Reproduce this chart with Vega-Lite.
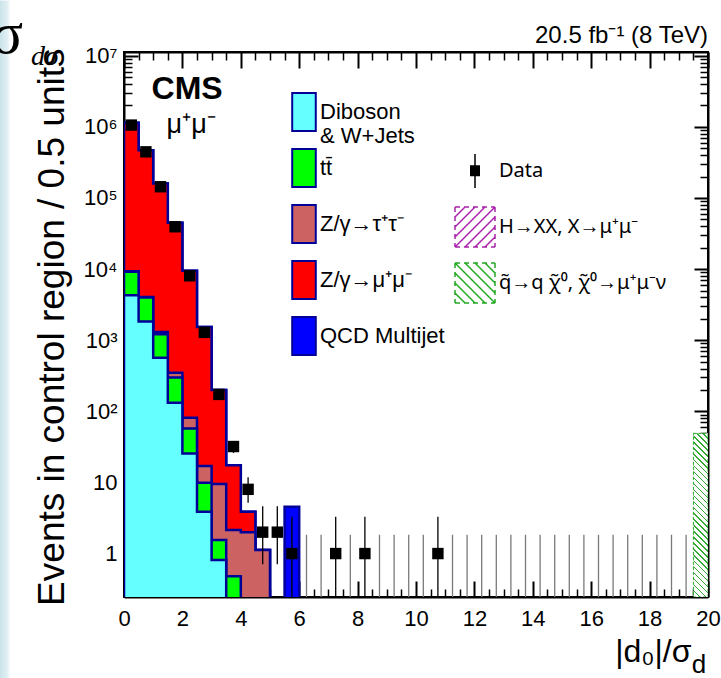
{
  "$schema": "https://vega.github.io/schema/vega-lite/v6.json",
  "width": 584,
  "height": 545,
  "autosize": {"type": "none"},
  "padding": {"left": 124, "top": 52, "right": 13, "bottom": 81},
  "background": "white",
  "config": {
    "font": "Liberation Sans",
    "view": {"stroke": "black", "strokeWidth": 2},
    "axis": {"domain": false, "grid": false, "zindex": 1, "tickColor": "black", "tickWidth": 1.5, "labelFlush": false, "labelOverlap": false, "labelColor": "black", "labelFont": "Liberation Sans", "titleFont": "Liberation Sans", "titleFontWeight": "normal", "titleColor": "black", "domainColor": "black"},
    "legend": {"labelFont": "Liberation Sans", "labelColor": "black"}
  },
  "datasets": {
    "stack": [
      {"k": "qcd", "lo": 0, "top": 1140000}, {"k": "qcd", "lo": 0.5, "top": 471000}, {"k": "qcd", "lo": 1, "top": 160000}, {"k": "qcd", "lo": 1.5, "top": 44800}, {"k": "qcd", "lo": 2, "top": 9460}, {"k": "qcd", "lo": 2.5, "top": 1530}, {"k": "qcd", "lo": 3, "top": 199}, {"k": "qcd", "lo": 3.5, "top": 17.5}, {"k": "qcd", "lo": 4, "top": 3.87}, {"k": "qcd", "lo": 4.5, "top": 1.12}, {"k": "qcd", "lo": 5, "top": 0.1}, {"k": "qcd", "lo": 5.5, "top": 4.55}, {"k": "qcd", "lo": 6, "top": 0.1},
      {"k": "zmm", "lo": 0, "top": 1140000}, {"k": "zmm", "lo": 0.5, "top": 471000}, {"k": "zmm", "lo": 1, "top": 160000}, {"k": "zmm", "lo": 1.5, "top": 44800}, {"k": "zmm", "lo": 2, "top": 9460}, {"k": "zmm", "lo": 2.5, "top": 1530}, {"k": "zmm", "lo": 3, "top": 199}, {"k": "zmm", "lo": 3.5, "top": 17.5}, {"k": "zmm", "lo": 4, "top": 3.87}, {"k": "zmm", "lo": 4.5, "top": 1.12}, {"k": "zmm", "lo": 5, "top": 0.1},
      {"k": "ztt", "lo": 0, "top": 9300}, {"k": "ztt", "lo": 0.5, "top": 4050}, {"k": "ztt", "lo": 1, "top": 1310}, {"k": "ztt", "lo": 1.5, "top": 348}, {"k": "ztt", "lo": 2, "top": 81}, {"k": "ztt", "lo": 2.5, "top": 17}, {"k": "ztt", "lo": 3, "top": 9.5}, {"k": "ztt", "lo": 3.5, "top": 2.14}, {"k": "ztt", "lo": 4, "top": 1.99}, {"k": "ztt", "lo": 4.5, "top": 1.12}, {"k": "ztt", "lo": 5, "top": 0.1},
      {"k": "tt", "lo": 0, "top": 9170}, {"k": "tt", "lo": 0.5, "top": 4000}, {"k": "tt", "lo": 1, "top": 1210}, {"k": "tt", "lo": 1.5, "top": 300}, {"k": "tt", "lo": 2, "top": 57.5}, {"k": "tt", "lo": 2.5, "top": 9.9}, {"k": "tt", "lo": 3, "top": 1.55}, {"k": "tt", "lo": 3.5, "top": 0.48}, {"k": "tt", "lo": 4, "top": 0.1},
      {"k": "db", "lo": 0, "top": 4300}, {"k": "db", "lo": 0.5, "top": 1840}, {"k": "db", "lo": 1, "top": 566}, {"k": "db", "lo": 1.5, "top": 132}, {"k": "db", "lo": 2, "top": 25.6}, {"k": "db", "lo": 2.5, "top": 3.87}, {"k": "db", "lo": 3, "top": 0.81}, {"k": "db", "lo": 3.5, "top": 0.1}
    ],
    "obs": [
      {"x": 0.25, "n": 1060000, "lo": 1058970, "hi": 1061030},
      {"x": 0.75, "n": 446000, "lo": 445332, "hi": 446668},
      {"x": 1.25, "n": 144000, "lo": 143620, "hi": 144380},
      {"x": 1.75, "n": 39400, "lo": 39202, "hi": 39598},
      {"x": 2.25, "n": 8050, "lo": 7960, "hi": 8140},
      {"x": 2.75, "n": 1290, "lo": 1254, "hi": 1326},
      {"x": 3.25, "n": 173, "lo": 159.8, "hi": 186.2},
      {"x": 3.75, "n": 32, "lo": 26, "hi": 38},
      {"x": 4.25, "n": 8, "lo": 5.2, "hi": 11.8},
      {"x": 4.75, "n": 2, "lo": 0.71, "hi": 4.64},
      {"x": 5.25, "n": 2, "lo": 0.71, "hi": 4.64},
      {"x": 5.75, "n": 1, "lo": 0.17, "hi": 3.3},
      {"x": 6.25, "n": 0, "lo": 0.1, "hi": 1.84},
      {"x": 6.75, "n": 0, "lo": 0.1, "hi": 1.84},
      {"x": 7.25, "n": 1, "lo": 0.17, "hi": 3.3},
      {"x": 7.75, "n": 0, "lo": 0.1, "hi": 1.84},
      {"x": 8.25, "n": 1, "lo": 0.17, "hi": 3.3},
      {"x": 8.75, "n": 0, "lo": 0.1, "hi": 1.84},
      {"x": 9.25, "n": 0, "lo": 0.1, "hi": 1.84},
      {"x": 9.75, "n": 0, "lo": 0.1, "hi": 1.84},
      {"x": 10.25, "n": 0, "lo": 0.1, "hi": 1.84},
      {"x": 10.75, "n": 1, "lo": 0.17, "hi": 3.3},
      {"x": 11.25, "n": 0, "lo": 0.1, "hi": 1.84},
      {"x": 11.75, "n": 0, "lo": 0.1, "hi": 1.84},
      {"x": 12.25, "n": 0, "lo": 0.1, "hi": 1.84},
      {"x": 12.75, "n": 0, "lo": 0.1, "hi": 1.84},
      {"x": 13.25, "n": 0, "lo": 0.1, "hi": 1.84},
      {"x": 13.75, "n": 0, "lo": 0.1, "hi": 1.84},
      {"x": 14.25, "n": 0, "lo": 0.1, "hi": 1.84},
      {"x": 14.75, "n": 0, "lo": 0.1, "hi": 1.84},
      {"x": 15.25, "n": 0, "lo": 0.1, "hi": 1.84},
      {"x": 15.75, "n": 0, "lo": 0.1, "hi": 1.84},
      {"x": 16.25, "n": 0, "lo": 0.1, "hi": 1.84},
      {"x": 16.75, "n": 0, "lo": 0.1, "hi": 1.84},
      {"x": 17.25, "n": 0, "lo": 0.1, "hi": 1.84},
      {"x": 17.75, "n": 0, "lo": 0.1, "hi": 1.84},
      {"x": 18.25, "n": 0, "lo": 0.1, "hi": 1.84},
      {"x": 18.75, "n": 0, "lo": 0.1, "hi": 1.84},
      {"x": 19.25, "n": 0, "lo": 0.1, "hi": 1.84},
      {"x": 19.75, "n": 0, "lo": 0.1, "hi": 1.84}
    ]
  },
  "layer": [
    {
      "data": {"values": [{}]},
      "mark": {"type": "rect", "fill": {"gradient": "linear", "x1": 0, "y1": 0, "x2": 1, "y2": 0, "stops": [{"offset": 0, "color": "#c9e3ea"}, {"offset": 0.7, "color": "#e2f0f3"}, {"offset": 1, "color": "#ffffff"}]}},
      "encoding": {
        "x": {"datum": -4.254, "type": "quantitative", "scale": {"domain": [0, 20]}, "axis": null},
        "x2": {"datum": -3.88},
        "y": {"datum": 60000000, "type": "quantitative", "scale": {"type": "log", "domain": [0.245, 11300000]}, "axis": null},
        "y2": {"datum": 0.01}
      }
    },
    {
      "data": {"name": "stack"},
      "transform": [{"filter": "datum.k == 'qcd'"}],
      "mark": {"type": "area", "interpolate": "step-after", "clip": true, "fill": "#0000ff", "stroke": "#000099", "strokeWidth": 2.5},
      "encoding": {
        "x": {"field": "lo", "type": "quantitative", "scale": {"domain": [0, 20]},
          "axis": {"orient": "bottom", "values": [0, 2, 4, 6, 8, 10, 12, 14, 16, 18, 20], "tickSize": -16, "tickWidth": 2, "labelFontSize": 22, "labelPadding": 27, "domain": true, "domainWidth": 2,
            "title": "|d₀|/σ", "titleFontSize": 32, "titleAlign": "right", "titleBaseline": "alphabetic", "titleX": 567, "titleY": 64}},
        "y": {"field": "top", "type": "quantitative", "scale": {"type": "log", "domain": [0.245, 11300000]},
          "axis": {"orient": "left", "values": [1, 10, 100, 1000, 10000, 100000, 1000000, 10000000], "tickSize": -14, "tickWidth": 2, "labelFontSize": 22, "labelPadding": 21, "domain": true, "domainWidth": 2,
            "labelExpr": "datum.value < 50 ? format(datum.value, 'd') : '10' + ['⁰','¹','²','³','⁴','⁵','⁶','⁷','⁸'][round(log(datum.value) / LN10)]",
            "title": "Events in control region / 0.5 units", "titleFontSize": 37, "titleAngle": 270, "titleAlign": "right", "titleBaseline": "alphabetic", "titleX": -61, "titleY": -4}},
        "y2": {"datum": 0.1}
      }
    },
    {
      "data": {"name": "stack"},
      "transform": [{"filter": "datum.k == 'zmm'"}],
      "mark": {"type": "area", "interpolate": "step-after", "clip": true, "fill": "#ff0000", "stroke": "#000099", "strokeWidth": 2.5},
      "encoding": {
        "x": {"field": "lo", "type": "quantitative", "scale": {"domain": [0, 20]},
          "axis": {"orient": "bottom", "values": [0.5, 1, 1.5, 2.5, 3, 3.5, 4.5, 5, 5.5, 6.5, 7, 7.5, 8.5, 9, 9.5, 10.5, 11, 11.5, 12.5, 13, 13.5, 14.5, 15, 15.5, 16.5, 17, 17.5, 18.5, 19, 19.5], "tickSize": -8, "tickWidth": 1.5, "labels": false, "domain": false, "title": null}},
        "y": {"field": "top", "type": "quantitative", "scale": {"type": "log", "domain": [0.245, 11300000]},
          "axis": {"orient": "left", "values": [0.3, 0.4, 0.5, 0.6, 0.7, 0.8, 0.9, 2, 3, 4, 5, 6, 7, 8, 9, 20, 30, 40, 50, 60, 70, 80, 90, 200, 300, 400, 500, 600, 700, 800, 900, 2000, 3000, 4000, 5000, 6000, 7000, 8000, 9000, 20000, 30000, 40000, 50000, 60000, 70000, 80000, 90000, 200000, 300000, 400000, 500000, 600000, 700000, 800000, 900000, 2000000, 3000000, 4000000, 5000000, 6000000, 7000000, 8000000, 9000000], "tickSize": -8, "tickWidth": 1.5, "labels": false, "domain": false, "title": null}},
        "y2": {"datum": 0.1}
      }
    },
    {
      "data": {"name": "stack"},
      "transform": [{"filter": "datum.k == 'ztt'"}],
      "mark": {"type": "area", "interpolate": "step-after", "clip": true, "fill": "#cd6262", "stroke": "#000099", "strokeWidth": 2.5},
      "encoding": {
        "x": {"field": "lo", "type": "quantitative", "scale": {"domain": [0, 20]},
          "axis": {"orient": "top", "values": [0, 2, 4, 6, 8, 10, 12, 14, 16, 18, 20], "tickSize": -16, "tickWidth": 2, "labels": false, "domain": true, "domainWidth": 2, "title": null}},
        "y": {"field": "top", "type": "quantitative", "scale": {"type": "log", "domain": [0.245, 11300000]},
          "axis": {"orient": "right", "values": [1, 10, 100, 1000, 10000, 100000, 1000000, 10000000], "tickSize": -14, "tickWidth": 2, "labels": false, "domain": true, "domainWidth": 2, "title": null}},
        "y2": {"datum": 0.1}
      }
    },
    {
      "data": {"name": "stack"},
      "transform": [{"filter": "datum.k == 'tt'"}],
      "mark": {"type": "area", "interpolate": "step-after", "clip": true, "fill": "#00ff00", "stroke": "#000099", "strokeWidth": 2.5},
      "encoding": {
        "x": {"field": "lo", "type": "quantitative", "scale": {"domain": [0, 20]},
          "axis": {"orient": "top", "values": [0.5, 1, 1.5, 2.5, 3, 3.5, 4.5, 5, 5.5, 6.5, 7, 7.5, 8.5, 9, 9.5, 10.5, 11, 11.5, 12.5, 13, 13.5, 14.5, 15, 15.5, 16.5, 17, 17.5, 18.5, 19, 19.5], "tickSize": -8, "tickWidth": 1.5, "labels": false, "domain": false, "title": null}},
        "y": {"field": "top", "type": "quantitative", "scale": {"type": "log", "domain": [0.245, 11300000]},
          "axis": {"orient": "right", "values": [0.3, 0.4, 0.5, 0.6, 0.7, 0.8, 0.9, 2, 3, 4, 5, 6, 7, 8, 9, 20, 30, 40, 50, 60, 70, 80, 90, 200, 300, 400, 500, 600, 700, 800, 900, 2000, 3000, 4000, 5000, 6000, 7000, 8000, 9000, 20000, 30000, 40000, 50000, 60000, 70000, 80000, 90000, 200000, 300000, 400000, 500000, 600000, 700000, 800000, 900000, 2000000, 3000000, 4000000, 5000000, 6000000, 7000000, 8000000, 9000000], "tickSize": -8, "tickWidth": 1.5, "labels": false, "domain": false, "title": null}},
        "y2": {"datum": 0.1}
      }
    },
    {
      "data": {"name": "stack"},
      "transform": [{"filter": "datum.k == 'db'"}],
      "mark": {"type": "area", "interpolate": "step-after", "clip": true, "fill": "#66ffff", "stroke": "#000099", "strokeWidth": 2.5},
      "encoding": {
        "x": {"field": "lo", "type": "quantitative", "scale": {"domain": [0, 20]}, "axis": null},
        "y": {"field": "top", "type": "quantitative", "scale": {"type": "log", "domain": [0.245, 11300000]}, "axis": null},
        "y2": {"datum": 0.1}
      }
    },
    {
      "data": {"name": "obs"},
      "mark": {"type": "rule", "clip": true, "strokeWidth": 1.3},
      "encoding": {
        "x": {"field": "x", "type": "quantitative", "scale": {"domain": [0, 20]}, "axis": null},
        "y": {"field": "lo", "type": "quantitative", "scale": {"type": "log", "domain": [0.245, 11300000]}, "axis": null},
        "y2": {"field": "hi"},
        "color": {"condition": {"test": "datum.n > 0", "value": "#000000"}, "value": "#7a7a7a"}
      }
    },
    {
      "data": {"name": "obs"},
      "transform": [{"filter": "datum.n > 0"}],
      "mark": {"type": "point", "shape": "square", "filled": true, "color": "#000000", "opacity": 1, "size": 130, "clip": true},
      "encoding": {
        "x": {"field": "x", "type": "quantitative", "scale": {"domain": [0, 20]}, "axis": null},
        "y": {"field": "n", "type": "quantitative", "scale": {"type": "log", "domain": [0.245, 11300000]}, "axis": null}
      }
    },
    {
      "data": {"values": [{"lo": 19.5, "hi": 20, "top": 49}]},
      "mark": {"type": "rect", "clip": true, "stroke": "#22aa22", "strokeWidth": 1, "strokeDash": [3, 2],
        "fill": {"gradient": "linear", "x1": 0, "y1": 1, "x2": 0.0964, "y2": -0.0806, "stops": [{"offset":0,"color":"#3a3"},{"offset":0.008,"color":"#3a3"},{"offset":0.008,"color":"#fff"},{"offset":0.0333,"color":"#fff"},
{"offset":0.0333,"color":"#3a3"},{"offset":0.0413,"color":"#3a3"},{"offset":0.0413,"color":"#fff"},{"offset":0.0667,"color":"#fff"},
{"offset":0.0667,"color":"#3a3"},{"offset":0.0747,"color":"#3a3"},{"offset":0.0747,"color":"#fff"},{"offset":0.1,"color":"#fff"},
{"offset":0.1,"color":"#3a3"},{"offset":0.108,"color":"#3a3"},{"offset":0.108,"color":"#fff"},{"offset":0.1333,"color":"#fff"},
{"offset":0.1333,"color":"#3a3"},{"offset":0.1413,"color":"#3a3"},{"offset":0.1413,"color":"#fff"},{"offset":0.1667,"color":"#fff"},
{"offset":0.1667,"color":"#3a3"},{"offset":0.1747,"color":"#3a3"},{"offset":0.1747,"color":"#fff"},{"offset":0.2,"color":"#fff"},
{"offset":0.2,"color":"#3a3"},{"offset":0.208,"color":"#3a3"},{"offset":0.208,"color":"#fff"},{"offset":0.2333,"color":"#fff"},
{"offset":0.2333,"color":"#3a3"},{"offset":0.2413,"color":"#3a3"},{"offset":0.2413,"color":"#fff"},{"offset":0.2667,"color":"#fff"},
{"offset":0.2667,"color":"#3a3"},{"offset":0.2747,"color":"#3a3"},{"offset":0.2747,"color":"#fff"},{"offset":0.3,"color":"#fff"},
{"offset":0.3,"color":"#3a3"},{"offset":0.308,"color":"#3a3"},{"offset":0.308,"color":"#fff"},{"offset":0.3333,"color":"#fff"},
{"offset":0.3333,"color":"#3a3"},{"offset":0.3413,"color":"#3a3"},{"offset":0.3413,"color":"#fff"},{"offset":0.3667,"color":"#fff"},
{"offset":0.3667,"color":"#3a3"},{"offset":0.3747,"color":"#3a3"},{"offset":0.3747,"color":"#fff"},{"offset":0.4,"color":"#fff"},
{"offset":0.4,"color":"#3a3"},{"offset":0.408,"color":"#3a3"},{"offset":0.408,"color":"#fff"},{"offset":0.4333,"color":"#fff"},
{"offset":0.4333,"color":"#3a3"},{"offset":0.4413,"color":"#3a3"},{"offset":0.4413,"color":"#fff"},{"offset":0.4667,"color":"#fff"},
{"offset":0.4667,"color":"#3a3"},{"offset":0.4747,"color":"#3a3"},{"offset":0.4747,"color":"#fff"},{"offset":0.5,"color":"#fff"},
{"offset":0.5,"color":"#3a3"},{"offset":0.508,"color":"#3a3"},{"offset":0.508,"color":"#fff"},{"offset":0.5333,"color":"#fff"},
{"offset":0.5333,"color":"#3a3"},{"offset":0.5413,"color":"#3a3"},{"offset":0.5413,"color":"#fff"},{"offset":0.5667,"color":"#fff"},
{"offset":0.5667,"color":"#3a3"},{"offset":0.5747,"color":"#3a3"},{"offset":0.5747,"color":"#fff"},{"offset":0.6,"color":"#fff"},
{"offset":0.6,"color":"#3a3"},{"offset":0.608,"color":"#3a3"},{"offset":0.608,"color":"#fff"},{"offset":0.6333,"color":"#fff"},
{"offset":0.6333,"color":"#3a3"},{"offset":0.6413,"color":"#3a3"},{"offset":0.6413,"color":"#fff"},{"offset":0.6667,"color":"#fff"},
{"offset":0.6667,"color":"#3a3"},{"offset":0.6747,"color":"#3a3"},{"offset":0.6747,"color":"#fff"},{"offset":0.7,"color":"#fff"},
{"offset":0.7,"color":"#3a3"},{"offset":0.708,"color":"#3a3"},{"offset":0.708,"color":"#fff"},{"offset":0.7333,"color":"#fff"},
{"offset":0.7333,"color":"#3a3"},{"offset":0.7413,"color":"#3a3"},{"offset":0.7413,"color":"#fff"},{"offset":0.7667,"color":"#fff"},
{"offset":0.7667,"color":"#3a3"},{"offset":0.7747,"color":"#3a3"},{"offset":0.7747,"color":"#fff"},{"offset":0.8,"color":"#fff"},
{"offset":0.8,"color":"#3a3"},{"offset":0.808,"color":"#3a3"},{"offset":0.808,"color":"#fff"},{"offset":0.8333,"color":"#fff"},
{"offset":0.8333,"color":"#3a3"},{"offset":0.8413,"color":"#3a3"},{"offset":0.8413,"color":"#fff"},{"offset":0.8667,"color":"#fff"},
{"offset":0.8667,"color":"#3a3"},{"offset":0.8747,"color":"#3a3"},{"offset":0.8747,"color":"#fff"},{"offset":0.9,"color":"#fff"},
{"offset":0.9,"color":"#3a3"},{"offset":0.908,"color":"#3a3"},{"offset":0.908,"color":"#fff"},{"offset":0.9333,"color":"#fff"},
{"offset":0.9333,"color":"#3a3"},{"offset":0.9413,"color":"#3a3"},{"offset":0.9413,"color":"#fff"},{"offset":0.9667,"color":"#fff"},
{"offset":0.9667,"color":"#3a3"},{"offset":0.9747,"color":"#3a3"},{"offset":0.9747,"color":"#fff"},{"offset":1,"color":"#fff"}]}},
      "encoding": {
        "x": {"field": "lo", "type": "quantitative", "scale": {"domain": [0, 20]}, "axis": null},
        "x2": {"field": "hi"},
        "y": {"field": "top", "type": "quantitative", "scale": {"type": "log", "domain": [0.245, 11300000]}, "axis": null},
        "y2": {"datum": 0.245}
      }
    },
    {
      "data": {"values": [{"c": "Diboson & W+Jets"}, {"c": "tt̄"}, {"c": "Z/γ→τ⁺τ⁻"}, {"c": "Z/γ→μ⁺μ⁻"}, {"c": "QCD Multijet"}]},
      "mark": {"type": "point", "filled": true, "clip": true, "stroke": "#000099", "strokeWidth": 2, "opacity": 1, "shape": "M-0.62,-1H0.62V1H-0.62Z"},
      "encoding": {
        "x": {"datum": 30, "type": "quantitative", "scale": {"domain": [0, 20]}, "axis": null},
        "y": {"datum": 1, "type": "quantitative", "scale": {"type": "log", "domain": [0.245, 11300000]}, "axis": null},
        "fill": {"field": "c", "type": "nominal",
          "scale": {"domain": ["Diboson & W+Jets", "tt̄", "Z/γ→τ⁺τ⁻", "Z/γ→μ⁺μ⁻", "QCD Multijet"], "range": ["#66ffff", "#00ff00", "#cd6262", "#ff0000", "#0000ff"]},
          "legend": {"title": null, "orient": "none", "legendX": 160, "legendY": 40, "padding": 0, "symbolType": "M-0.62,-1H0.62V1H-0.62Z", "symbolSize": 1444, "symbolStrokeColor": "#000099", "symbolStrokeWidth": 2, "symbolOpacity": 1, "labelFontSize": 22, "labelOffset": -4, "labelLimit": 400, "rowPadding": -2, "gridAlign": "all",
            "labelExpr": "datum.label == 'Diboson & W+Jets' ? ['Diboson', '& W+Jets'] : datum.label"}}
      }
    },
    {
      "data": {"values": [{"s": "Data"}, {"s": "H→XX, X→μ⁺μ⁻"}, {"s": "q̃→q χ̃⁰, χ̃⁰→μ⁺μ⁻ν"}]},
      "mark": {"type": "point", "filled": false, "clip": true, "strokeWidth": 1.5, "opacity": 1},
      "encoding": {
        "x": {"datum": 30, "type": "quantitative", "scale": {"domain": [0, 20]}, "axis": null},
        "y": {"datum": 1, "type": "quantitative", "scale": {"type": "log", "domain": [0.245, 11300000]}, "axis": null},
        "stroke": {"field": "s", "type": "nominal",
          "scale": {"domain": ["Data", "H→XX, X→μ⁺μ⁻", "q̃→q χ̃⁰, χ̃⁰→μ⁺μ⁻ν"], "range": ["#000000", "#aa22aa", "#22aa22"]},
          "legend": {"title": null, "orient": "none", "legendX": 330, "legendY": 98, "padding": 0, "symbolSize": 1600, "symbolStrokeWidth": 1.5, "symbolOpacity": 1, "labelFont": "Noto Sans", "labelFontSize": 20, "labelOffset": 3, "labelLimit": 400, "rowPadding": 10, "gridAlign": "all"}},
        "shape": {"field": "s", "type": "nominal",
          "scale": {"domain": ["Data", "H→XX, X→μ⁺μ⁻", "q̃→q χ̃⁰, χ̃⁰→μ⁺μ⁻ν"], "range": [
            "M-0.25,-0.25H0.25M-0.25,-0.19H0.25M-0.25,-0.13H0.25M-0.25,-0.07H0.25M-0.25,-0.01H0.25M-0.25,0.05H0.25M-0.25,0.11H0.25M-0.25,0.17H0.25M-0.25,0.23H0.25M0,-0.85V0.85",
            "M-1,-1H-0.75M-0.55,-1H-0.3M-0.1,-1H0.15M0.35,-1H0.6M0.8,-1H1M-1,1H-0.75M-0.55,1H-0.3M-0.1,1H0.15M0.35,1H0.6M0.8,1H1M-1,-1V-0.75M-1,-0.55V-0.3M-1,-0.1V0.15M-1,0.35V0.6M-1,0.8V1M1,-1V-0.75M1,-0.55V-0.3M1,-0.1V0.15M1,0.35V0.6M1,0.8V1M-1,-0.5L-0.5,-1M-1,0L0,-1M-1,0.5L0.5,-1M-1,1L1,-1M-0.5,1L1,-0.5M0,1L1,0M0.5,1L1,0.5",
            "M-1,-1H-0.75M-0.55,-1H-0.3M-0.1,-1H0.15M0.35,-1H0.6M0.8,-1H1M-1,1H-0.75M-0.55,1H-0.3M-0.1,1H0.15M0.35,1H0.6M0.8,1H1M-1,-1V-0.75M-1,-0.55V-0.3M-1,-0.1V0.15M-1,0.35V0.6M-1,0.8V1M1,-1V-0.75M1,-0.55V-0.3M1,-0.1V0.15M1,0.35V0.6M1,0.8V1M-1,0.5L-0.5,1M-1,0L0,1M-1,-0.5L0.5,1M-1,-1L1,1M-0.5,-1L1,0.5M0,-1L1,0M0.5,-1L1,-0.5"]},
          "legend": {"title": null, "orient": "none", "legendX": 330, "legendY": 98, "padding": 0, "symbolSize": 1600, "symbolStrokeWidth": 1.5, "symbolOpacity": 1, "labelFont": "Noto Sans", "labelFontSize": 20, "labelOffset": 3, "labelLimit": 400, "rowPadding": 10, "gridAlign": "all"}}
      }
    },
    {
      "data": {"values": [{"t": "20.5 fb⁻¹ (8 TeV)"}]},
      "mark": {"type": "text", "font": "Liberation Sans", "fontSize": 24, "align": "right", "baseline": "alphabetic", "color": "#000000"},
      "encoding": {
        "x": {"datum": 20, "type": "quantitative", "scale": {"domain": [0, 20]}, "axis": null},
        "y": {"datum": 15000000, "type": "quantitative", "scale": {"type": "log", "domain": [0.245, 11300000]}, "axis": null},
        "text": {"field": "t"}
      }
    },
    {
      "data": {"values": [{"t": "CMS"}]},
      "mark": {"type": "text", "font": "Liberation Sans", "fontWeight": "bold", "fontSize": 32, "align": "center", "baseline": "alphabetic", "color": "#000000"},
      "encoding": {
        "x": {"datum": 2.16, "type": "quantitative", "scale": {"domain": [0, 20]}, "axis": null},
        "y": {"datum": 2450000, "type": "quantitative", "scale": {"type": "log", "domain": [0.245, 11300000]}, "axis": null},
        "text": {"field": "t"}
      }
    },
    {
      "data": {"values": [{"t": "μ⁺μ⁻"}]},
      "mark": {"type": "text", "font": "Liberation Sans", "fontSize": 27, "align": "center", "baseline": "alphabetic", "color": "#000000"},
      "encoding": {
        "x": {"datum": 2.3, "type": "quantitative", "scale": {"domain": [0, 20]}, "axis": null},
        "y": {"datum": 820000, "type": "quantitative", "scale": {"type": "log", "domain": [0.245, 11300000]}, "axis": null},
        "text": {"field": "t"}
      }
    },
    {
      "data": {"values": [{"t": "d"}]},
      "mark": {"type": "text", "font": "Liberation Sans", "fontSize": 26, "align": "center", "baseline": "alphabetic", "color": "#000000"},
      "encoding": {
        "x": {"datum": 19.69, "type": "quantitative", "scale": {"domain": [0, 20]}, "axis": null},
        "y": {"datum": 0.021, "type": "quantitative", "scale": {"type": "log", "domain": [0.245, 11300000]}, "axis": null},
        "text": {"field": "t"}
      }
    },
    {
      "data": {"values": [{"t": "σ"}]},
      "mark": {"type": "text", "font": "Liberation Serif", "fontSize": 60, "align": "center", "baseline": "alphabetic", "color": "#000000"},
      "encoding": {
        "x": {"datum": -4.01, "type": "quantitative", "scale": {"domain": [0, 20]}, "axis": null},
        "y": {"datum": 10880000, "type": "quantitative", "scale": {"type": "log", "domain": [0.245, 11300000]}, "axis": null},
        "text": {"field": "t"}
      }
    },
    {
      "data": {"values": [{"t": "dσ"}]},
      "mark": {"type": "text", "font": "Liberation Serif", "fontStyle": "italic", "fontSize": 28, "align": "center", "baseline": "alphabetic", "color": "#000000"},
      "encoding": {
        "x": {"datum": -2.71, "type": "quantitative", "scale": {"domain": [0, 20]}, "axis": null},
        "y": {"datum": 7380000, "type": "quantitative", "scale": {"type": "log", "domain": [0.245, 11300000]}, "axis": null},
        "text": {"field": "t"}
      }
    }
  ],
  "resolve": {"axis": {"x": "independent", "y": "independent"}}
}
